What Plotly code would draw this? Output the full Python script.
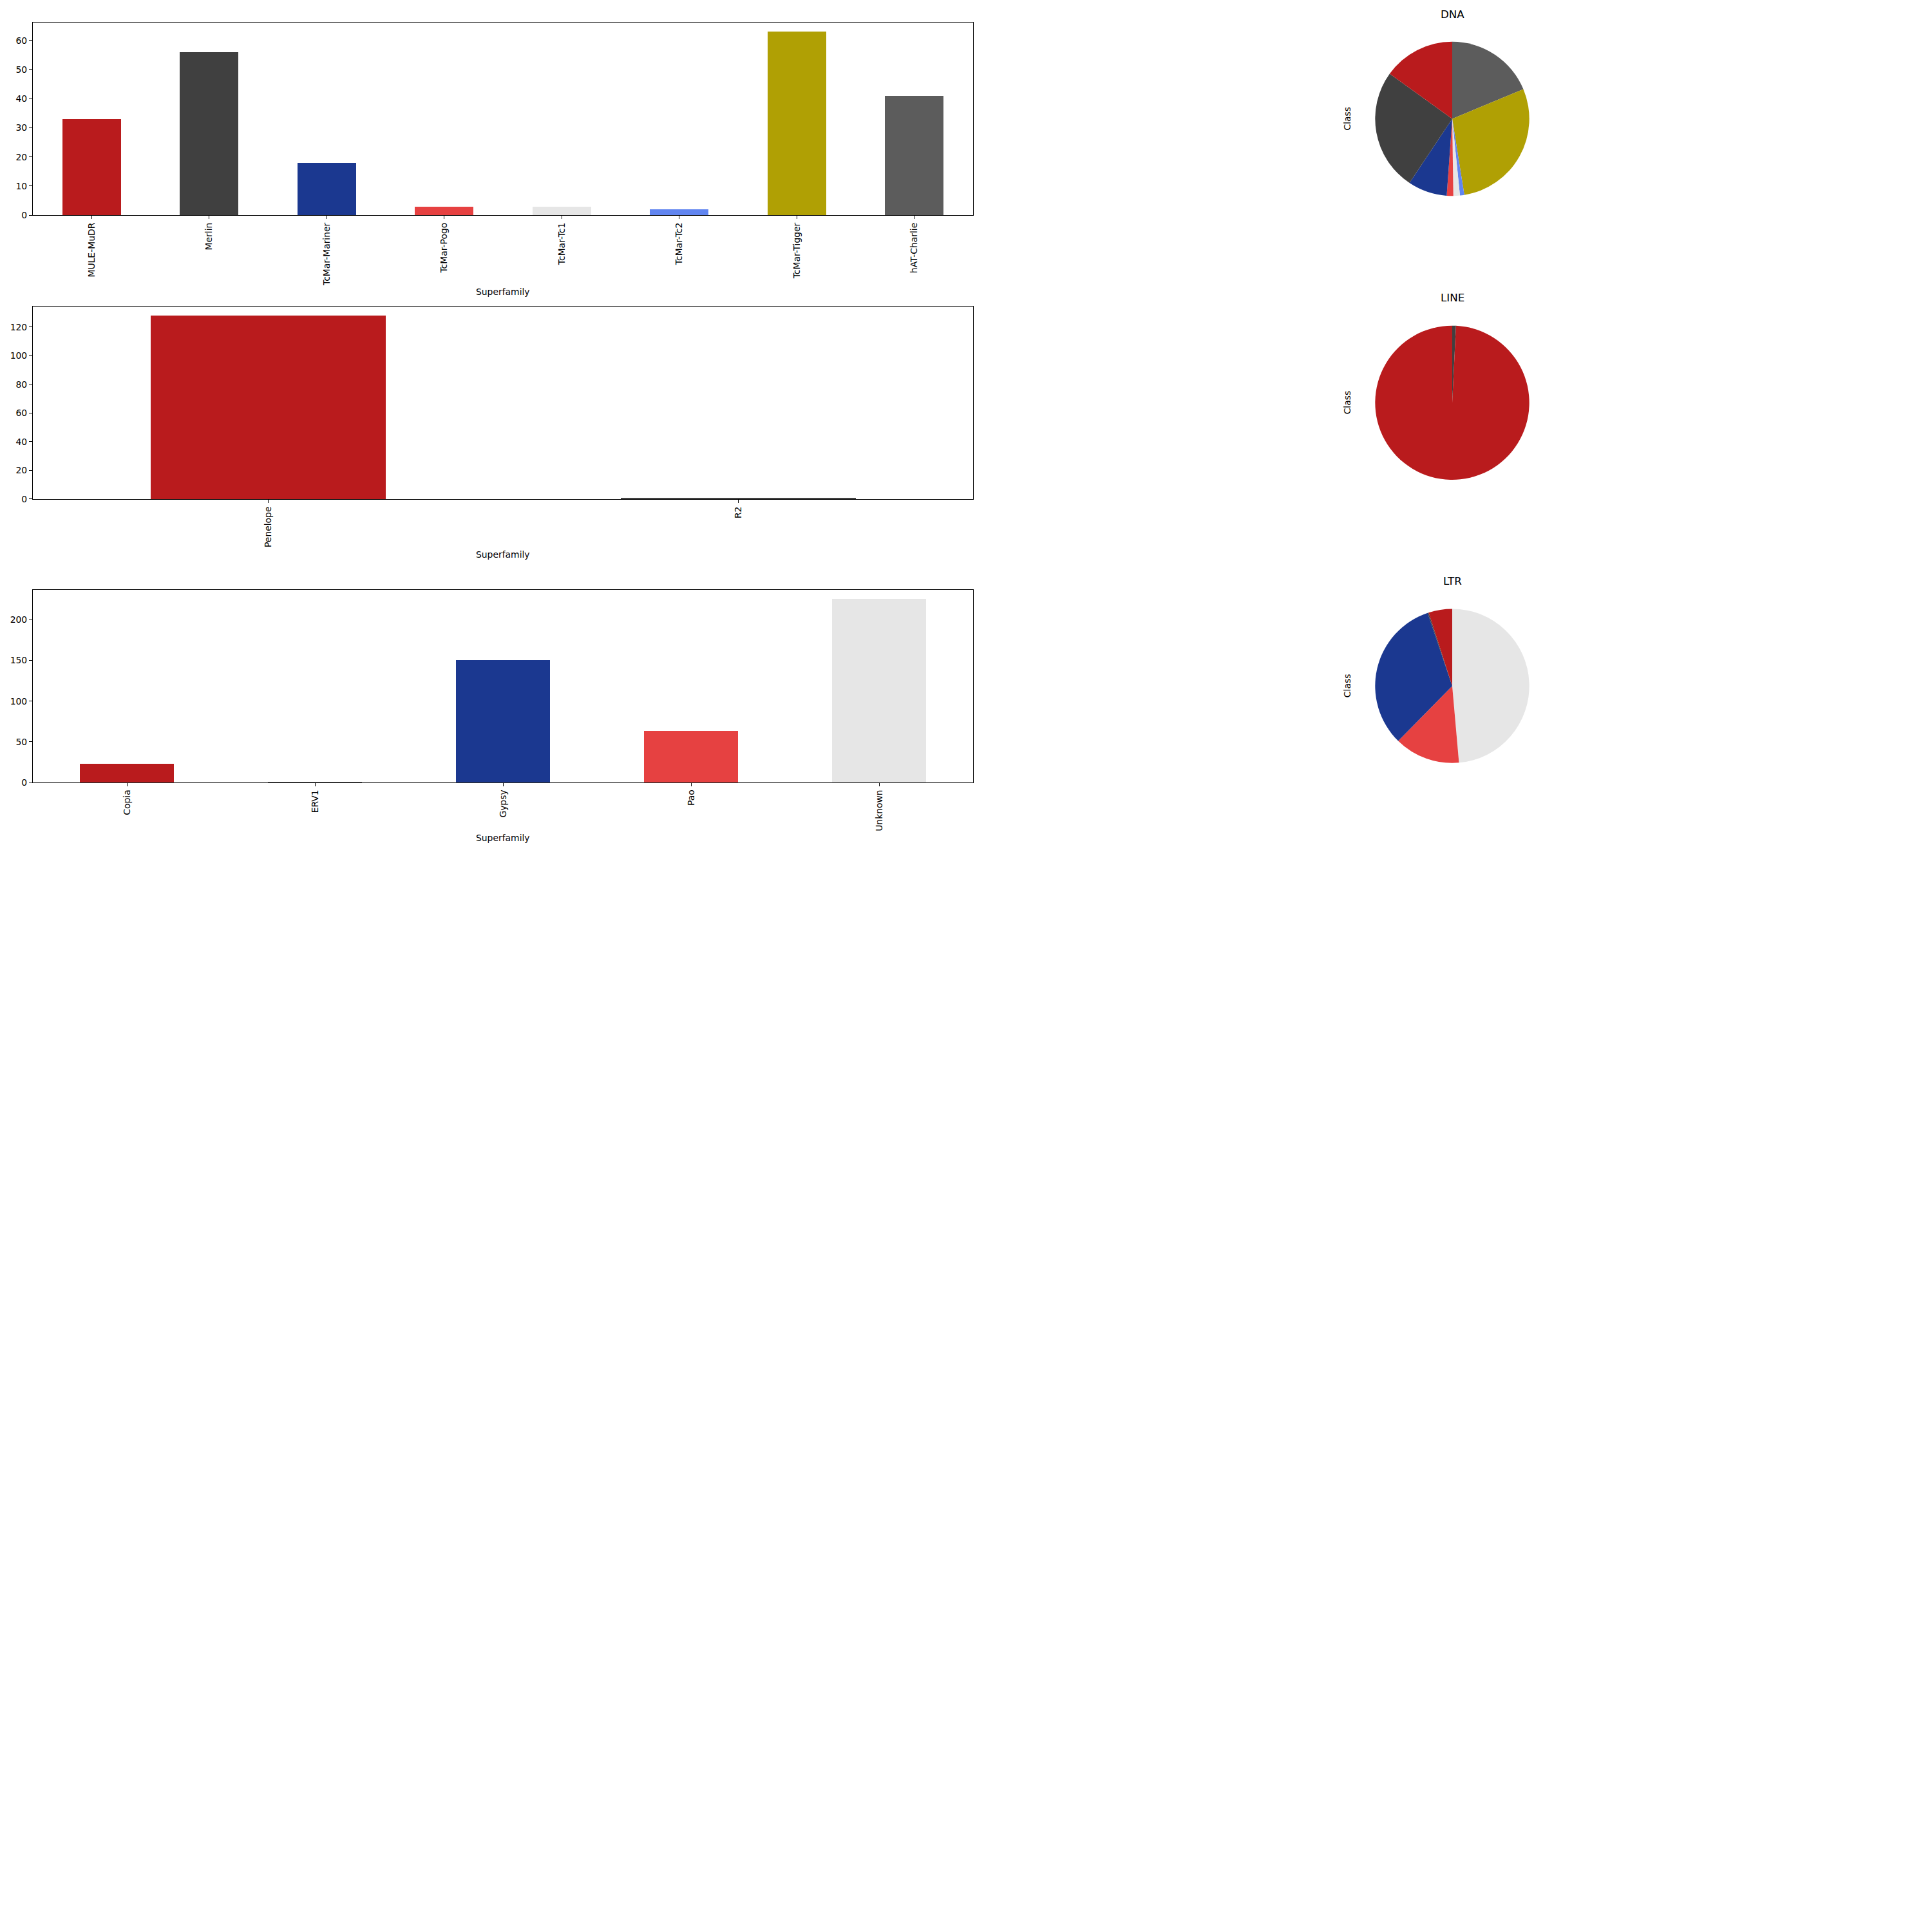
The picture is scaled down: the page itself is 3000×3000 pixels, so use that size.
import plotly.graph_objects as go

# ---- data ----
palette = ["#B91B1D", "#404040", "#1B3890", "#E64141", "#E6E6E6", "#6185F0", "#B0A004", "#5C5C5C"]

dna_labels = ["MULE-MuDR", "Merlin", "TcMar-Mariner", "TcMar-Pogo", "TcMar-Tc1", "TcMar-Tc2", "TcMar-Tigger", "hAT-Charlie"]
dna_values = [33, 56, 18, 3, 3, 2, 63, 41]

line_labels = ["Penelope", "R2"]
line_values = [128, 1]

ltr_labels = ["Copia", "ERV1", "Gypsy", "Pao", "Unknown"]
ltr_values = [23, 1, 151, 64, 226]

groups = [
    ("DNA", dna_labels, dna_values, 10),
    ("LINE", line_labels, line_values, 20),
    ("LTR", ltr_labels, ltr_values, 50),
]

W = H = 3000
FONT = "DejaVu Sans"
TICK_PX = 13.9
TITLE_PX = 16.7

# pixel layout (top, bottom) of each bar axes and pie center
bar_left, bar_right = 51, 1511
bar_rows = [(35, 335), (477, 777), (918, 1218)]
xlabel_y = [454, 863, 1304]
pie_cx, pie_r = 2255, 120
pie_cy = [185, 627, 1068]
title_y = [22, 463, 904]
class_x = 2092

fig = go.Figure()
annotations = []

for i, (name, labels, values, dtick) in enumerate(groups):
    n = len(labels)
    xa = "x" if i == 0 else f"x{i+1}"
    ya = "y" if i == 0 else f"y{i+1}"
    colors = palette[:n]
    fig.add_trace(go.Bar(
        x=list(range(n)), y=values,
        marker=dict(color=colors, line=dict(width=0)),
        width=0.5, xaxis=xa, yaxis=ya, showlegend=False,
    ))
    top, bot = bar_rows[i]
    ymax = max(values) * 1.05
    axis_common = dict(showline=True, linecolor="black", linewidth=1.1, mirror=True,
                       ticks="outside", ticklen=5, tickwidth=1.1, tickcolor="black",
                       showgrid=False, zeroline=False,
                       tickfont=dict(family=FONT, size=TICK_PX, color="black"))
    fig.update_layout(**{
        ("xaxis" if i == 0 else f"xaxis{i+1}"): dict(
            domain=[bar_left / W, bar_right / W], anchor=ya,
            range=[-0.5, n - 0.5], tickmode="array",
            tickvals=list(range(n)), ticktext=labels, tickangle=-90,
            **axis_common),
        ("yaxis" if i == 0 else f"yaxis{i+1}"): dict(
            domain=[1 - bot / H, 1 - top / H], anchor=xa,
            range=[0, ymax], dtick=dtick, tick0=0,
            **axis_common),
    })
    annotations.append(dict(
        x=(bar_left + bar_right) / 2 / W, y=1 - xlabel_y[i] / H,
        xref="paper", yref="paper", text="Superfamily", showarrow=False,
        xanchor="center", yanchor="middle",
        font=dict(family=FONT, size=TICK_PX, color="black")))

    # matplotlib-style pie: first slice starts at 12 o'clock going counterclockwise,
    # equivalent to reversed order going clockwise from 12 o'clock
    cy = pie_cy[i]
    fig.add_trace(go.Pie(
        labels=labels[::-1], values=values[::-1], sort=False, direction="clockwise",
        rotation=0, textinfo="none", hoverinfo="label+value",
        marker=dict(colors=colors[::-1], line=dict(width=0)),
        domain=dict(x=[(pie_cx - pie_r) / W, (pie_cx + pie_r) / W],
                    y=[1 - (cy + pie_r) / H, 1 - (cy - pie_r) / H]),
        showlegend=False,
    ))
    annotations.append(dict(
        x=pie_cx / W, y=1 - title_y[i] / H, xref="paper", yref="paper",
        text=name, showarrow=False, xanchor="center", yanchor="middle",
        font=dict(family=FONT, size=TITLE_PX, color="black")))
    annotations.append(dict(
        x=class_x / W, y=1 - cy / H, xref="paper", yref="paper",
        text="Class", showarrow=False, textangle=-90,
        xanchor="center", yanchor="middle",
        font=dict(family=FONT, size=TICK_PX, color="black")))

fig.update_layout(
    width=W, height=H, margin=dict(l=0, r=0, t=0, b=0),
    paper_bgcolor="white", plot_bgcolor="white",
    annotations=annotations, bargap=0,
)

fig.write_html("out.html")
